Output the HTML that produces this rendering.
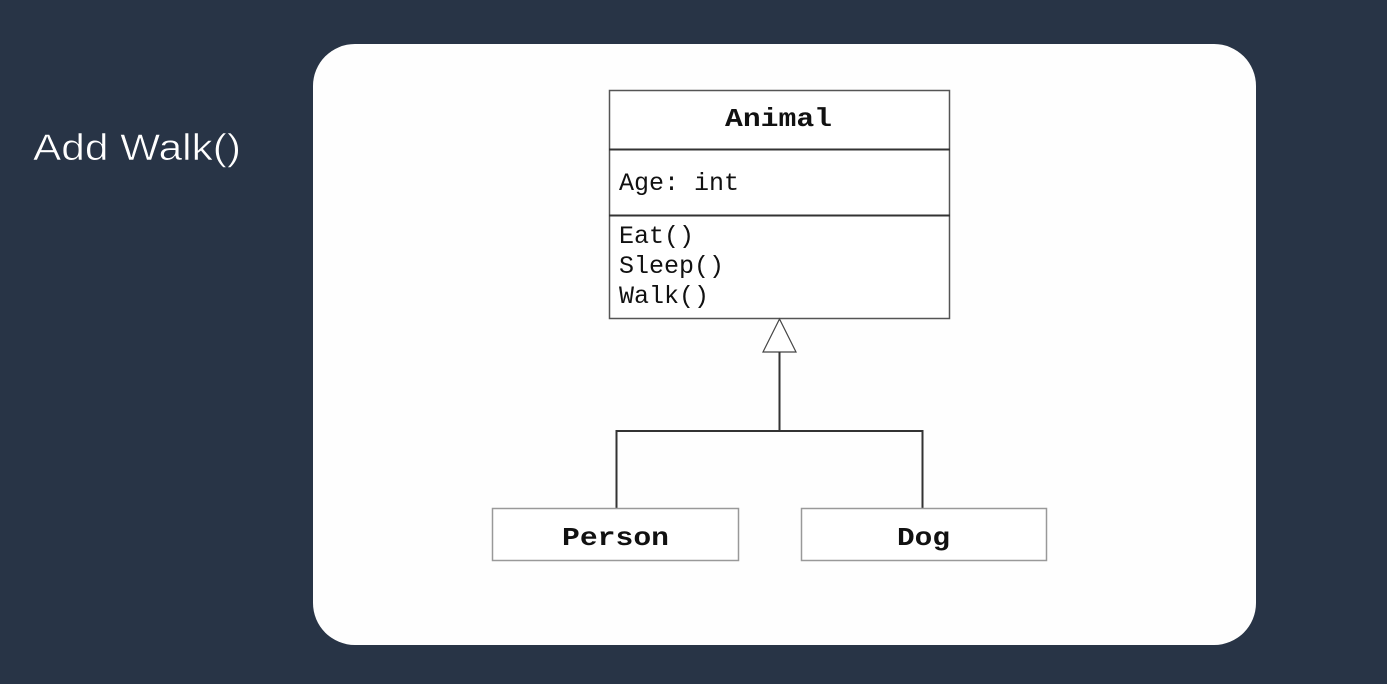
<!DOCTYPE html>
<html><head><meta charset="utf-8"><style>
html,body{margin:0;padding:0;background:#283446;width:1387px;height:684px;overflow:hidden}
svg{display:block}
</style></head><body>
<svg width="1387" height="684" viewBox="0 0 1387 684" xmlns="http://www.w3.org/2000/svg">
<rect width="1387" height="684" fill="#283446"/>
<text x="33" y="160" font-family="Liberation Sans, sans-serif" font-size="37" fill="#ffffff" stroke="#283446" stroke-width="0.6" textLength="208" lengthAdjust="spacingAndGlyphs">Add Walk()</text>
<rect x="313" y="44" width="943" height="601" rx="42" fill="#fefefe"/>
<g font-family="Liberation Mono, monospace" fill="#111">
<rect x="609.5" y="90.5" width="340" height="228" fill="#fff" stroke="#555" stroke-width="1.5"/>
<line x1="609" y1="149.5" x2="950" y2="149.5" stroke="#333" stroke-width="2"/>
<line x1="609" y1="215.5" x2="950" y2="215.5" stroke="#333" stroke-width="2"/>
<text x="725" y="126" font-size="26" font-weight="bold" textLength="107" lengthAdjust="spacingAndGlyphs">Animal</text>
<text x="619" y="190" font-size="25">Age: int</text>
<text x="619" y="243" font-size="25">Eat()</text>
<text x="619" y="273" font-size="25">Sleep()</text>
<text x="619" y="303" font-size="25">Walk()</text>
<polygon points="779.5,319 763,352 796,352" fill="#fff" stroke="#444" stroke-width="1.2"/>
<polyline points="779.5,352 779.5,431 616.5,431 616.5,508" fill="none" stroke="#333" stroke-width="2"/>
<polyline points="779.5,431 922.5,431 922.5,508" fill="none" stroke="#333" stroke-width="2"/>
<rect x="492.5" y="508.5" width="246" height="52" fill="#fff" stroke="#999" stroke-width="1.5"/>
<rect x="801.5" y="508.5" width="245" height="52" fill="#fff" stroke="#999" stroke-width="1.5"/>
<text x="562" y="545" font-size="26" font-weight="bold" textLength="107" lengthAdjust="spacingAndGlyphs">Person</text>
<text x="897" y="545" font-size="26" font-weight="bold" textLength="53" lengthAdjust="spacingAndGlyphs">Dog</text>
</g>
</svg>
</body></html>
